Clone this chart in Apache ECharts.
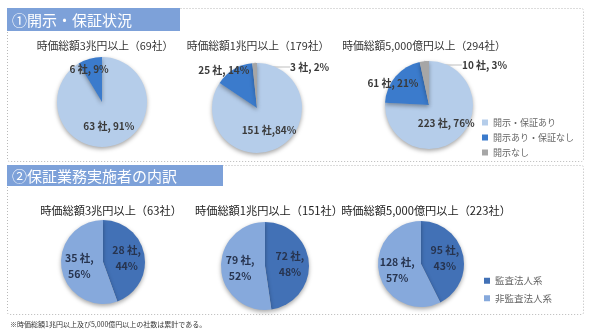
<!DOCTYPE html>
<html><head><meta charset="utf-8">
<script src="https://cdn.jsdelivr.net/npm/echarts@6/dist/echarts.min.js"></script>
<style>html,body{margin:0;padding:0;background:#fff}#c{width:590px;height:332px}</style>
</head><body><div id="c"></div>
<script>
// ---- data ----
const sectionHeaders = ['①開示・保証状況', '②保証業務実施者の内訳'];
const topCategories = ['開示・保証あり', '開示あり・保証なし', '開示なし'];
const topTitles = ['時価総額3兆円以上（69社）', '時価総額1兆円以上（179社）', '時価総額5,000億円以上（294社）'];
const topValues3T = [63, 6, 0];
const topValues1T = [151, 25, 3];
const topValues500B = [223, 61, 10];
const bottomCategories = ['監査法人系', '非監査法人系'];
const bottomTitles = ['時価総額3兆円以上（63社）', '時価総額1兆円以上（151社）', '時価総額5,000億円以上（223社）'];
const bottomValues3T = [28, 35];
const bottomValues1T = [72, 79];
const bottomValues500B = [95, 128];
const footnote = '※時価総額1兆円以上及び5,000億円以上の社数は累計である。';

// ---- styles / layout ----
const FONT = '"Noto Sans CJK JP", "Noto Sans", sans-serif';
const topColors = ['#b5cdea', '#3b7bcc', '#a6a6a6'];
const bottomColors = ['#4271b6', '#86a9dc'];
const shadow = {shadowBlur: 4, shadowOffsetY: 2, shadowColor: 'rgba(0,0,0,0.35)'};

const topPies = [
  {values: topValues3T, center: [102, 102], r: 45, tx: 105, minorOffset: [-6, -8], bigFmt: '{c} 社, {d}%'},
  {values: topValues1T, center: [257, 108], r: 45, tx: 258, minorOffset: [-20, -16], bigFmt: '{c} 社,{d}%'},
  {values: topValues500B, center: [429, 105], r: 44, tx: 424, minorOffset: [-17, -6], bigFmt: '{c} 社, {d}%'}
];
const bottomPies = [
  {values: bottomValues3T, center: [103, 262], r: 42, tx: 111},
  {values: bottomValues1T, center: [265, 266], r: 44, tx: 269},
  {values: bottomValues500B, center: [421, 264], r: 43, tx: 426}
];

const labelText = {fontFamily: FONT, fontSize: 10, fontWeight: 'bold', color: '#3a3a3a'};

const series = [];
const titles = [];

topPies.forEach((p, i) => {
  titles.push({text: topTitles[i], left: p.tx, top: 41, textAlign: 'center', padding: 0,
    textStyle: {fontFamily: FONT, fontSize: 10.8, fontWeight: 'normal', color: '#333'}});
  series.push({
    type: 'pie', center: p.center, radius: p.r, startAngle: 90, clockwise: true,
    percentPrecision: 0, avoidLabelOverlap: false, animation: false,
    itemStyle: Object.assign({}, shadow),
    label: Object.assign({position: 'inside', formatter: '{c} 社, {d}%'}, labelText),
    labelLine: {show: false},
    labelLayout: function (lp) {
      if (lp.dataIndex !== 2) return {};
      return {x: lp.rect.x + lp.rect.width + 33, y: lp.rect.y + 4, align: 'left', verticalAlign: 'middle'};
    },
    data: topCategories.map((name, k) => {
      const v = p.values[k];
      const item = {name: name, value: v, itemStyle: {color: topColors[k]}};
      if (v === 0) item.label = {show: false};
      else if (k === 0) item.label = {formatter: p.bigFmt};
      else if (k === 1) item.label = {offset: p.minorOffset};
      else {
        item.label = {position: 'outside'};
        item.labelLine = {show: true, length: 6, length2: 20, lineStyle: {color: '#bfbfbf', width: 1}};
      }
      return item;
    })
  });
});

bottomPies.forEach((p, i) => {
  titles.push({text: bottomTitles[i], left: p.tx, top: 205, textAlign: 'center', padding: 0,
    textStyle: {fontFamily: FONT, fontSize: 11.2, fontWeight: 'normal', color: '#222'}});
  series.push({
    type: 'pie', center: p.center, radius: p.r, startAngle: 90, clockwise: true,
    percentPrecision: 0, avoidLabelOverlap: false, animation: false,
    itemStyle: Object.assign({}, shadow),
    label: Object.assign({position: 'inside', formatter: '{c} 社,\n{d}%', lineHeight: 16}, labelText, {fontSize: 10.5, color: '#27344f'}),
    labelLine: {show: false},
    data: bottomCategories.map((name, k) => ({name: name, value: p.values[k], itemStyle: {color: bottomColors[k]}}))
  });
});

const legendText = {fontFamily: FONT, fontSize: 9, color: '#666'};
const option = {
  backgroundColor: '#fff',
  animation: false,
  title: titles,
  legend: [
    {data: topCategories, orient: 'vertical', left: 482, top: 118, itemWidth: 6, itemHeight: 6, itemGap: 6, icon: 'rect', textStyle: legendText, padding: 0, selectedMode: false},
    {data: bottomCategories, orient: 'vertical', left: 484, top: 276, itemWidth: 6, itemHeight: 6, itemGap: 8, icon: 'rect', textStyle: Object.assign({}, legendText, {fontSize: 9.5}), padding: 0, selectedMode: false}
  ],
  graphic: [
    {type: 'rect', shape: {x: 7.5, y: 8.5, width: 576, height: 153, r: 2}, style: {fill: 'none', stroke: '#b8b8b8', lineWidth: 1, lineDash: [1, 2]}, silent: true},
    {type: 'rect', shape: {x: 7.5, y: 165.5, width: 576, height: 149, r: 2}, style: {fill: 'none', stroke: '#b8b8b8', lineWidth: 1, lineDash: [1, 2]}, silent: true},
    {type: 'rect', shape: {x: 7, y: 8, width: 173, height: 23}, style: {fill: '#7da1d9'}, silent: true},
    {type: 'rect', shape: {x: 7, y: 165, width: 216, height: 21}, style: {fill: '#7da1d9'}, silent: true},
    {type: 'text', x: 12, y: 20, style: {text: sectionHeaders[0], fill: '#fff', font: '15px ' + FONT, verticalAlign: 'middle'}, silent: true},
    {type: 'text', x: 12, y: 176, style: {text: sectionHeaders[1], fill: '#fff', font: '15px ' + FONT, verticalAlign: 'middle'}, silent: true},
    {type: 'text', x: 10, y: 324, style: {text: footnote, fill: '#333', font: '7px ' + FONT, verticalAlign: 'middle'}, silent: true}
  ],
  series: series
};
const chart = echarts.init(document.getElementById('c'), null, {renderer: 'canvas'});
chart.setOption(option);
</script></body></html>
